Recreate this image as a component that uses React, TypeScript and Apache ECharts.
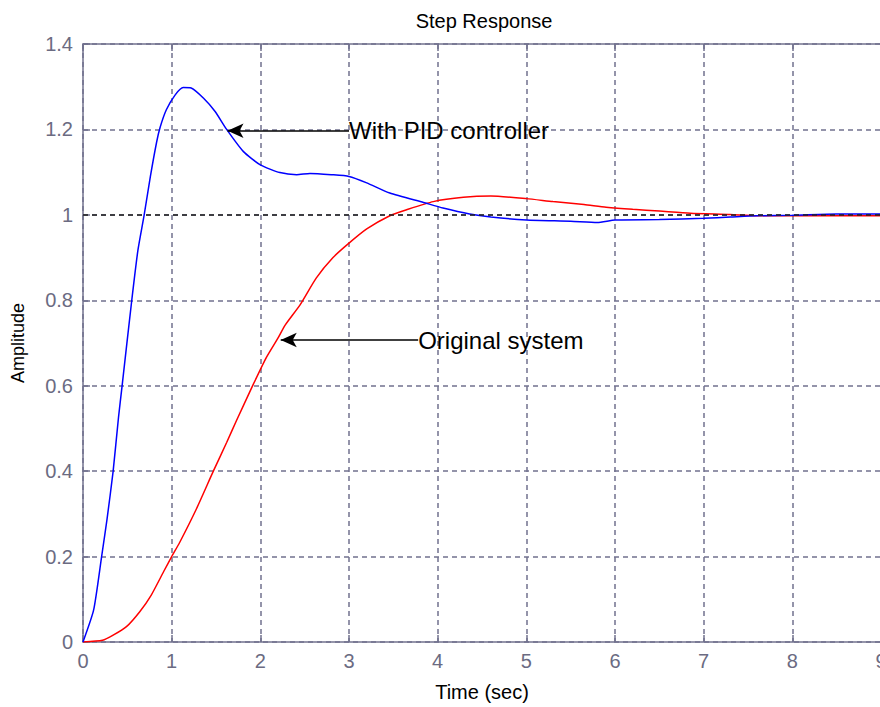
import React, { useEffect, useRef } from "react";
import * as echarts from "echarts";

// Time ticks / amplitude ticks
const xTicks = [0, 1, 2, 3, 4, 5, 6, 7, 8, 9];
const yTicks = [0, 0.2, 0.4, 0.6, 0.8, 1, 1.2, 1.4];

// Step response with PID controller (blue)
const pidT = [0, 0.12, 0.21, 0.27, 0.34, 0.4, 0.44, 0.55, 0.62, 0.69, 0.76, 0.83, 0.87, 0.94, 1.04, 1.13, 1.22, 1.36, 1.49, 1.62, 1.81, 2.0, 2.22, 2.41, 2.56, 2.8, 3.0, 3.2, 3.46, 3.84, 4.06, 4.36, 4.6, 5.0, 5.5, 5.8, 6.0, 6.5, 7.0, 7.3, 7.6, 8.0, 8.5, 9.0];
const pidV = [0, 0.075, 0.2, 0.286, 0.4, 0.525, 0.598, 0.8, 0.918, 1.0, 1.09, 1.17, 1.205, 1.246, 1.281, 1.298, 1.297, 1.273, 1.242, 1.2, 1.148, 1.117, 1.099, 1.094, 1.097, 1.094, 1.09, 1.075, 1.051, 1.029, 1.016, 1.002, 0.995, 0.988, 0.985, 0.982, 0.988, 0.989, 0.992, 0.995, 0.998, 0.999, 1.002, 1.002];

// Step response of the original system (red)
const origT = [0, 0.22, 0.34, 0.49, 0.64, 0.77, 0.91, 1.0, 1.09, 1.28, 1.47, 1.62, 1.73, 1.92, 2.07, 2.2, 2.28, 2.45, 2.63, 2.82, 2.99, 3.2, 3.46, 3.65, 3.95, 4.29, 4.6, 5.0, 5.3, 5.65, 5.9, 6.2, 6.5, 6.85, 7.3, 7.6, 8.0, 8.5, 9.0];
const origV = [0, 0.004, 0.016, 0.036, 0.071, 0.11, 0.165, 0.2, 0.233, 0.312, 0.4, 0.467, 0.518, 0.603, 0.667, 0.712, 0.742, 0.79, 0.852, 0.9, 0.932, 0.967, 0.998, 1.012, 1.031, 1.041, 1.044, 1.038, 1.031, 1.024, 1.018, 1.013, 1.009, 1.004, 1.001, 0.998, 0.998, 0.998, 0.998];

// Steady-state reference
const steadyState = 1;

// Annotations
const pidNote = { text: "With PID controller", from: 3.0, to: 1.63, v: 1.197 };
const origNote = { text: "Original system", from: 3.78, to: 2.23, v: 0.707 };

const AXIS = "#72728e";
const LABEL = "#6b6b82";
const FONT = "'Liberation Sans', Arial, sans-serif";

export default function App() {
  const ref = useRef<HTMLDivElement>(null);
  useEffect(() => {
    if (!ref.current) return;
    const chart = echarts.init(ref.current, null, { renderer: "svg" });
    const zip = (t: number[], v: number[]) => t.map((x, i) => [x, v[i]]);
    const arrowLine = (n: typeof pidNote) => ({
      silent: true,
      symbol: ["none", "arrow"],
      symbolSize: [11, 16],
      label: { show: false },
      lineStyle: { color: "#000", type: "solid", width: 1.5 },
      data: [[{ coord: [n.from, n.v] }, { coord: [n.to, n.v] }]],
    });
    const noteLabel = (n: typeof pidNote) => ({
      silent: true,
      symbol: "circle",
      symbolSize: 0,
      label: {
        show: true,
        position: "right",
        distance: 0,
        formatter: n.text,
        color: "#000",
        fontSize: 24,
        fontFamily: FONT,
      },
      data: [{ coord: [n.from, n.v] }],
    });
    chart.setOption({
      animation: false,
      backgroundColor: "#fff",
      title: {
        text: "Step Response",
        left: 479,
        top: 6,
        textAlign: "center",
        textStyle: { color: "#000", fontSize: 20, fontWeight: "normal", fontFamily: FONT },
      },
      grid: {
        left: 83,
        top: 44,
        right: -1,
        bottom: 65,
        containLabel: false,
        outerBoundsMode: "none",
      },
      xAxis: [
        {
          type: "value",
          min: xTicks[0],
          max: xTicks[xTicks.length - 1],
          interval: 1,
          name: "Time (sec)",
          nameLocation: "middle",
          nameGap: 40,
          nameTextStyle: { color: "#000", fontSize: 20, fontFamily: FONT },
          axisLine: { show: true, lineStyle: { color: AXIS, width: 1.5 } },
          axisTick: { show: true, inside: true, length: 7, lineStyle: { color: AXIS, width: 1.5 } },
          axisLabel: { color: LABEL, fontSize: 20, fontFamily: FONT, margin: 9, hideOverlap: false },
          splitLine: { show: true, lineStyle: { color: AXIS, type: [5, 4], width: 1.5 } },
        },
        {
          type: "value",
          position: "top",
          min: xTicks[0],
          max: xTicks[xTicks.length - 1],
          interval: 1,
          axisLine: { show: true, lineStyle: { color: AXIS, width: 1.5 } },
          axisTick: { show: true, inside: true, length: 7, lineStyle: { color: AXIS, width: 1.5 } },
          axisLabel: { show: false },
          splitLine: { show: false },
        },
      ],
      yAxis: {
        type: "value",
        min: yTicks[0],
        max: yTicks[yTicks.length - 1],
        interval: 0.2,
        name: "Amplitude",
        nameLocation: "middle",
        nameGap: 56,
        nameTextStyle: { color: "#000", fontSize: 18, fontFamily: FONT },
        axisLine: { show: true, lineStyle: { color: AXIS, width: 1.5 } },
        axisTick: { show: true, inside: true, length: 7, lineStyle: { color: AXIS, width: 1.5 } },
        axisLabel: { color: LABEL, fontSize: 20, fontFamily: FONT, margin: 10 },
        splitLine: { show: true, lineStyle: { color: AXIS, type: [5, 4], width: 1.5 } },
      },
      series: [
        {
          name: "Original system",
          type: "line",
          data: zip(origT, origV),
          showSymbol: false,
          smooth: 0.2,
          lineStyle: { color: "#ff0000", width: 1.5 },
          itemStyle: { color: "#ff0000" },
          markLine: arrowLine(origNote),
          markPoint: noteLabel(origNote),
          z: 3,
        },
        {
          name: "With PID controller",
          type: "line",
          data: zip(pidT, pidV),
          showSymbol: false,
          smooth: 0.2,
          lineStyle: { color: "#0000ff", width: 1.5 },
          itemStyle: { color: "#0000ff" },
          markLine: arrowLine(pidNote),
          markPoint: noteLabel(pidNote),
          z: 4,
        },
        {
          name: "steady",
          type: "line",
          data: [],
          markLine: {
            silent: true,
            symbol: ["none", "none"],
            label: { show: false },
            lineStyle: { color: "#222", type: [5, 4], width: 1.5 },
            data: [{ yAxis: steadyState }],
          },
          z: 2,
        },
      ],
    });
    return () => chart.dispose();
  }, []);
  return (
    <div
      ref={ref}
      style={{ position: "absolute", left: 0, top: 0, width: 880, height: 707, overflow: "hidden" }}
    />
  );
}
